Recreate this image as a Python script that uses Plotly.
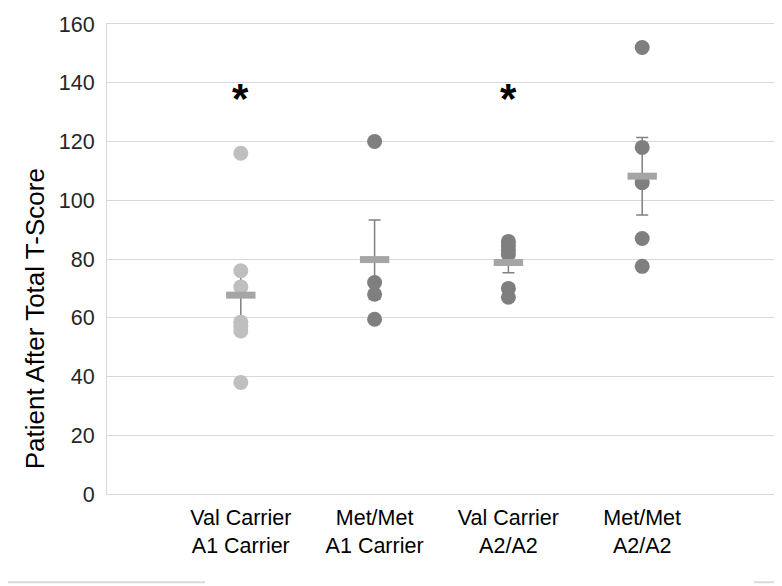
import plotly.graph_objects as go

# categories and read-off values
categories = ["Val Carrier<br>A1 Carrier", "Met/Met<br>A1 Carrier",
              "Val Carrier<br>A2/A2", "Met/Met<br>A2/A2"]
cat_pos = [1, 2, 3, 4]

val_a1 = [116, 76, 70.5, 58.5, 57, 55.5, 38]
met_a1 = [120, 72, 68, 59.5]
val_a2 = [86, 84.5, 83, 81.5, 70, 67]
met_a2 = [152, 118, 106, 87, 77.5]

group_means = [67.7, 79.8, 78.8, 108.2]
group_sem = [9.2, 13.5, 3.5, 13.2]

star_groups = [1, 3]
star_y = [134.5, 134.5]

FONT = "Liberation Sans, Arial, sans-serif"
GRID = "#D9D9D9"

fig = go.Figure()

# error bars (SEM) drawn first so dots sit over them
fig.add_trace(go.Scatter(
    x=cat_pos, y=group_means, mode="markers",
    marker=dict(size=1, color="rgba(0,0,0,0)"),
    error_y=dict(type="data", array=group_sem, visible=True,
                 color="#808080", thickness=1.5, width=6),
    showlegend=False, hoverinfo="skip",
))

groups = [(1, val_a1, "#BFBFBF"), (2, met_a1, "#7F7F7F"),
          (3, val_a2, "#7F7F7F"), (4, met_a2, "#7F7F7F")]
for pos, vals, col in groups:
    fig.add_trace(go.Scatter(
        x=[pos] * len(vals), y=vals, mode="markers",
        marker=dict(size=15, color=col),
        showlegend=False,
    ))

# mean bars
fig.add_trace(go.Scatter(
    x=cat_pos, y=group_means, mode="markers",
    marker=dict(symbol="line-ew", size=21,
                line=dict(width=7, color="#A5A5A5")),
    showlegend=False,
))

for g, yv in zip(star_groups, star_y):
    fig.add_annotation(x=g, y=yv, text="<b>*</b>", showarrow=False,
                       font=dict(family=FONT, size=42, color="black"),
                       xanchor="center", yanchor="middle")

fig.add_annotation(xref="paper", yref="paper", x=-0.1075, y=0.372,
                   text="Patient After Total T-Score", textangle=-90,
                   showarrow=False, xanchor="center", yanchor="middle",
                   font=dict(family=FONT, size=26, color="black"))

# outer frame of the original screenshot
frame = dict(color=GRID, width=2)
for x0, y0, x1, y1 in [(1.003, 1.05, 1.003, -0.1878),
                       (-0.17, -0.1878, 0.1463, -0.1878),
                       (0.967, -0.1878, 1.003, -0.1878)]:
    fig.add_shape(type="line", xref="paper", yref="paper",
                  x0=x0, y0=y0, x1=x1, y1=y1, line=frame)

fig.update_xaxes(range=[0, 5], tickvals=cat_pos, ticktext=categories,
                 showgrid=False, zeroline=False, showline=True,
                 linecolor=GRID, linewidth=1, mirror=True, ticks="",
                 ticklabelstandoff=4,
                 tickfont=dict(family=FONT, size=21.5, color="black"))
fig.update_yaxes(range=[0, 160], dtick=20, showgrid=True, gridcolor=GRID,
                 gridwidth=1, zeroline=False, showline=True, linecolor=GRID,
                 linewidth=1, mirror=True, ticks="", ticklabelstandoff=7,
                 tickfont=dict(family=FONT, size=21.5, color="#262626"))

# the page body adds an 8px margin, so the figure is 8px smaller here
fig.update_layout(
    width=774, height=578,
    margin=dict(l=99, r=5, t=12, b=92),
    paper_bgcolor="white", plot_bgcolor="white",
    font=dict(family=FONT),
)

fig.write_html("out.html")
